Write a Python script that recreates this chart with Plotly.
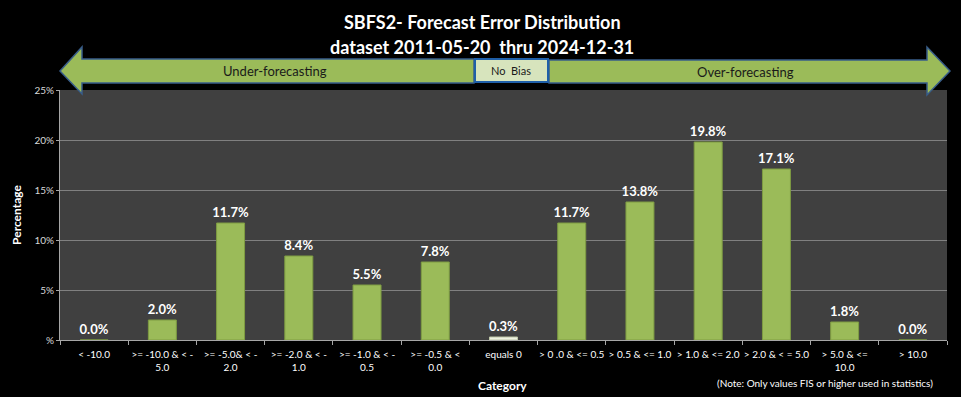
import plotly.graph_objects as go

categories = ["< -10.0", ">= -10.0 & < -<br>5.0", ">= -5.0& < -<br>2.0", ">= -2.0 & < -<br>1.0",
              ">= -1.0 & < -<br>0.5", ">= -0.5 & <<br>0.0", "equals 0", "> 0 .0 & <= 0.5",
              "> 0.5 & <= 1.0", "> 1.0 & <= 2.0", "> 2.0 & < = 5.0", "> 5.0 & <=<br>10.0", "> 10.0"]
values = [0.0, 2.0, 11.7, 8.4, 5.5, 7.8, 0.3, 11.7, 13.8, 19.8, 17.1, 1.8, 0.0]
bar_colors = ["#9BBB59"] * 6 + ["#EEF2E2"] + ["#9BBB59"] * 6
line_colors = ["#7E9C42"] * 6 + ["#BFC7A8"] + ["#7E9C42"] * 6
y_tickvals = [0, 5, 10, 15, 20, 25]
y_ticktext = ["%", "5%", "10%", "15%", "20%", "25%"]

FONT = "Lato"

fig = go.Figure()
fig.add_trace(go.Bar(
    x=categories, y=values,
    marker=dict(color=bar_colors, line=dict(color=line_colors, width=1)),
    texttemplate="<b>%{y:.1f}%</b>", textposition="outside",
    textfont=dict(color="white", size=13, family=FONT),
    cliponaxis=False,
))

# plot area pixel geometry
L, R, T, B = 60, 947, 90, 340
W, H = R - L, B - T
def px(x):
    return (x - L) / W
def py(y):
    return (B - y) / H

left_arrow = [(60, 71), (82, 47), (82, 59), (474, 59), (474, 83), (82, 83), (82, 94)]
right_arrow = [(950, 71), (927, 47), (927, 60), (549, 60), (549, 83), (927, 83), (927, 95)]
def path(pts):
    return "M " + " L ".join(f"{px(x):.5f},{py(y):.5f}" for x, y in pts) + " Z"

shapes = [
    dict(type="path", xref="paper", yref="paper", path=path(left_arrow),
         fillcolor="#9BBB59", line=dict(color="#385D8A", width=1.5), layer="above"),
    dict(type="path", xref="paper", yref="paper", path=path(right_arrow),
         fillcolor="#9BBB59", line=dict(color="#385D8A", width=1.5), layer="above"),
    dict(type="rect", xref="paper", yref="paper", x0=px(475), x1=px(548), y0=py(82), y1=py(59),
         fillcolor="#D7E4BD", line=dict(color="#1F5FA8", width=2), layer="above"),
]

def ann(text, x, y, size, color="white"):
    return dict(text=text, x=px(x), y=py(y), xref="paper", yref="paper",
                xanchor="center", yanchor="middle", showarrow=False,
                font=dict(size=size, color=color, family=FONT))

annotations = [
    ann("Under-forecasting", 275, 71, 13, "#1A1A1A"),
    ann("Over-forecasting", 745, 72, 13, "#1A1A1A"),
    ann("No  Bias", 511, 71, 11, "#1A1A1A"),
    ann("<b>SBFS2- Forecast Error Distribution</b>", 482, 22, 18),
    ann("<b>dataset 2011-05-20  thru 2024-12-31</b>", 482, 47, 18),
    ann("<b>Category</b>", 502, 385, 12),
    ann("(Note: Only values FIS or higher used in statistics)", 825, 383, 10),
]

fig.update_layout(
    width=961, height=397,
    margin=dict(l=L, r=961 - R, t=T, b=397 - B, autoexpand=False),
    paper_bgcolor="black", plot_bgcolor="#404040",
    bargap=0.59, showlegend=False,
    uniformtext=dict(minsize=13, mode="show"),
    shapes=shapes, annotations=annotations,
    font=dict(family=FONT, color="white"),
    xaxis=dict(type="category", tickson="boundaries", ticks="outside", ticklen=4,
               tickcolor="#A6A6A6", showline=True, linecolor="#A6A6A6", linewidth=1,
               tickfont=dict(size=10, color="white", family=FONT), tickangle=0,
               ticklabelstandoff=5, showgrid=False),
    yaxis=dict(range=[0, 25], tickvals=y_tickvals, ticktext=y_ticktext,
               ticks="outside", ticklen=3, tickcolor="#A6A6A6",
               showline=True, linecolor="#A6A6A6", linewidth=1,
               gridcolor="#808080", gridwidth=1, zeroline=False,
               tickfont=dict(size=10, color="#D9D9D9", family=FONT),
               title=dict(text="<b>Percentage</b>", standoff=10,
                          font=dict(size=12, color="white", family=FONT))),
)

fig.write_html("out.html", config={"displayModeBar": False})

# remove the default page margin so the figure sits at the window origin
with open("out.html", encoding="utf-8") as f:
    html = f.read()
html = html.replace("<body>", '<body style="margin:0;padding:0;background:black;overflow:hidden">', 1)
with open("out.html", "w", encoding="utf-8") as f:
    f.write(html)
